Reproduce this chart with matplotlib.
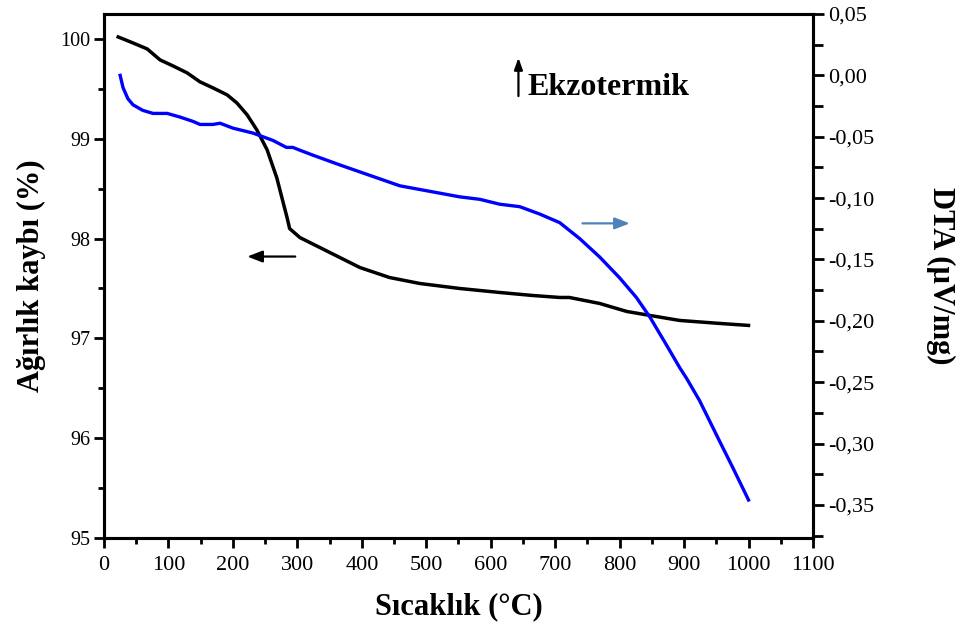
import matplotlib
matplotlib.use('Agg')
import matplotlib.pyplot as plt
from matplotlib.ticker import MultipleLocator, FuncFormatter

plt.rcParams['font.family'] = ['Liberation Serif', 'DejaVu Serif']

# TG (ağırlık kaybı) verisi
sicaklik_tg = [22, 45, 67, 87, 107, 129, 149, 169, 191, 206, 222, 237, 253, 268, 284,
               288, 304, 335, 366, 397, 443, 490, 552, 614, 665, 707, 722, 769, 811,
               847, 893, 955, 1000]
agirlik = [100.02, 99.96, 99.90, 99.79, 99.73, 99.66, 99.57, 99.51, 99.44, 99.36, 99.24,
           99.09, 98.89, 98.61, 98.21, 98.10, 98.01, 97.91, 97.81, 97.71, 97.61, 97.55,
           97.50, 97.46, 97.43, 97.41, 97.41, 97.35, 97.27, 97.23, 97.18, 97.15, 97.13]

# DTA verisi
sicaklik_dta = [25, 29.5, 37, 45, 60, 76, 98, 118, 138, 149, 169, 180, 200, 231, 262, 283,
                293, 304, 324, 366, 459, 552, 583, 614, 645, 676, 707, 738, 769, 800, 826,
                847, 873, 893, 904, 924, 955, 975, 1000]
dta = [0.000, -0.010, -0.019, -0.024, -0.0285, -0.031, -0.031, -0.034, -0.0375, -0.040,
       -0.040, -0.039, -0.043, -0.047, -0.053, -0.0587, -0.0587, -0.061, -0.065, -0.073,
       -0.090, -0.099, -0.101, -0.105, -0.107, -0.113, -0.120, -0.133, -0.148, -0.165,
       -0.181, -0.197, -0.220, -0.238, -0.247, -0.265, -0.298, -0.319, -0.346]

fig = plt.figure(figsize=(9.57, 6.34), dpi=100)
ax1 = fig.add_axes([0.1087, 0.1514, 0.7408, 0.8265])
ax2 = ax1.twinx()

ax1.plot(sicaklik_tg, agirlik, color='black', lw=2.5, zorder=3)
ax2.plot(sicaklik_dta, dta, color='#0000ff', lw=2.4, zorder=3)

ax1.set_xlim(0, 1100)
ax1.set_ylim(95, 100.25)
ax2.set_ylim(-0.377, 0.05)

ax1.xaxis.set_major_locator(MultipleLocator(100))
ax1.xaxis.set_minor_locator(MultipleLocator(50))
ax1.yaxis.set_major_locator(MultipleLocator(1))
ax1.yaxis.set_minor_locator(MultipleLocator(0.5))
ax2.yaxis.set_major_locator(MultipleLocator(0.05))
ax2.yaxis.set_minor_locator(MultipleLocator(0.025))

def virgul(v, pos):
    v = round(v, 3)
    if v == 0:
        v = 0.0
    return f'{v:.2f}'.replace('.', ',')

ax2.yaxis.set_major_formatter(FuncFormatter(virgul))

for ax in (ax1, ax2):
    for s in ax.spines.values():
        s.set_linewidth(2.2)
ax1.tick_params(axis='both', which='major', direction='out', length=7, width=2)
ax1.tick_params(axis='both', which='minor', direction='out', length=4, width=2)
ax1.tick_params(axis='x', labelsize=16, pad=6)
ax1.tick_params(axis='y', labelsize=14.5, pad=3)
ax1.tick_params(top=False, which='both')
ax2.tick_params(axis='y', which='major', direction='out', length=8, width=2, labelsize=16, pad=3)
ax2.tick_params(axis='y', which='minor', direction='out', length=7, width=2)

ax1.set_xlabel('Sıcaklık (°C)', fontsize=22, fontweight='bold', labelpad=12)
ax1.set_ylabel('Ağırlık kaybı (%)', fontsize=22, fontweight='bold', labelpad=10)
ax2.set_ylabel('DTA (µV/mg)', fontsize=22, fontweight='bold', rotation=270, labelpad=58)

# ok işaretleri
ax1.annotate('', xy=(218, 97.82), xytext=(301, 97.82),
             arrowprops=dict(arrowstyle='-|>,head_length=0.9,head_width=0.35',
                             color='black', lw=1.6))
ax2.annotate('', xy=(820, -0.1206), xytext=(738, -0.1206),
             arrowprops=dict(arrowstyle='-|>,head_length=0.9,head_width=0.35',
                             color='#4f81bd', lw=1.6))
ax1.annotate('', xy=(643, 99.84), xytext=(643, 99.40),
             arrowprops=dict(arrowstyle='-|>,head_length=0.7,head_width=0.25',
                             color='black', lw=1.6))
ax1.text(657, 99.51, 'Ekzotermik', fontsize=23, fontweight='bold', va='center', ha='left')

fig.savefig('out.png', dpi=100)
